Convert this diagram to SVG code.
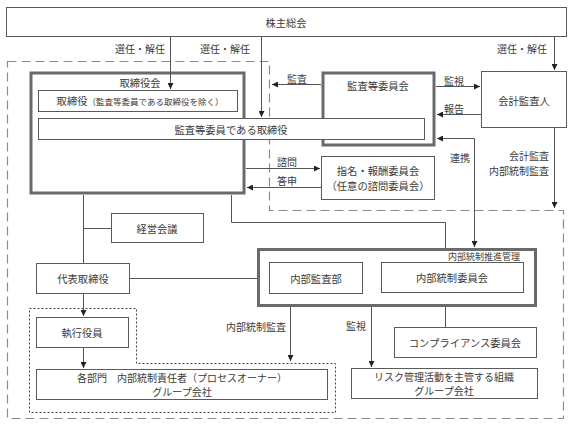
<svg xmlns="http://www.w3.org/2000/svg" width="573" height="425" viewBox="0 0 573 425">
<style>
text{font-family:"Noto Sans CJK JP","Noto Sans CJK SC",sans-serif;font-size:10.3px;fill:#3a3a3a;dominant-baseline:central;text-anchor:middle}
.lbl{font-size:10px}
.two{font-size:10px}
.box{fill:#fff;stroke:#5a5a5a;stroke-width:1}
.thick{fill:#fff;stroke:#6a6a6a;stroke-width:3}
.ln{fill:none;stroke:#555;stroke-width:1}
.arr{marker-end:url(#ah)}
.dash{fill:none;stroke:#8c8c8c;stroke-width:1.2;stroke-dasharray:9 5}
.dot{fill:none;stroke:#444;stroke-width:1;stroke-dasharray:2 2}
</style>
<defs>
<marker id="ah" markerUnits="userSpaceOnUse" markerWidth="7" markerHeight="6" refX="6" refY="3" orient="auto-start-reverse"><path d="M0,0 L6,3 L0,6 z" fill="#222"/></marker>
</defs>
<rect width="573" height="425" fill="#fff"/>
<g id="regions">
<path class="dash" d="M7.5,61.5 H269.5 V210.5 H563.5 V418.5 H7.5 Z"/>
<path class="dot" d="M29.5,308.5 H136.5 V363.5 H335.5 V412.5 H29.5 Z"/>
</g>
<g id="kabunushi"><rect class="box" x="6.5" y="7.5" width="560" height="29"/><text x="286" y="22">株主総会</text></g>
<g id="torishimariyakukai"><rect class="thick" x="31" y="73" width="213" height="120"/><text x="140" y="82">取締役会</text></g>
<g id="kansatoiinkai"><rect class="thick" x="323" y="73" width="111" height="72"/><text x="378" y="85">監査等委員会</text></g>
<g id="torishimariyaku"><rect class="box" x="38.5" y="90.5" width="199" height="21"/><text x="140" y="100.5">取締役<tspan style="font-size:8.5px">（監査等委員である取締役を除く）</tspan></text></g>
<g id="kansatoiin-torishimariyaku"><rect class="box" x="38.5" y="118.5" width="386" height="21"/><text x="231" y="129">監査等委員である取締役</text></g>
<g id="kaikeikansanin"><rect class="box" x="481.5" y="71.5" width="85" height="56"/><text x="524" y="100">会計監査人</text></g>
<g id="shimei"><rect class="box" x="321.5" y="156.5" width="113" height="43"/><text x="378" y="170">指名・報酬委員会</text><text x="378" y="185">（任意の諮問委員会）</text></g>
<g id="keieikaigi"><rect class="box" x="111.5" y="213.5" width="92" height="29"/><text x="157" y="228">経営会議</text></g>
<g id="daihyo"><rect class="box" x="36.5" y="263.5" width="93" height="30"/><text x="83" y="278">代表取締役</text></g>
<g id="suishin"><rect class="thick" x="258.5" y="249.5" width="277" height="56"/><text x="520" y="256" style="font-size:9px;text-anchor:end">内部統制推進管理</text></g>
<g id="naibukansabu"><rect class="box" x="269.5" y="262.5" width="93" height="31"/><text x="316" y="278">内部監査部</text></g>
<g id="naibutoseiiinkai"><rect class="box" x="381.5" y="262.5" width="142" height="30"/><text x="452" y="277">内部統制委員会</text></g>
<g id="shikkoyakuin"><rect class="box" x="36.5" y="317.5" width="92" height="30"/><text x="82" y="332">執行役員</text></g>
<g id="kakubumon"><rect class="box" x="36.5" y="369.5" width="291" height="30"/><text class="two" x="182" y="377.5">各部門　内部統制責任者（プロセスオーナー）</text><text class="two" x="182" y="391.5">グループ会社</text></g>
<g id="compliance"><rect class="box" x="394.5" y="327.5" width="142" height="30"/><text x="465" y="342">コンプライアンス委員会</text></g>
<g id="risk"><rect class="box" x="351.5" y="368.5" width="186" height="30"/><text class="two" x="444" y="376.5">リスク管理活動を主管する組織</text><text class="two" x="444" y="390.5">グループ会社</text></g>
<g id="connectors">
<path class="ln arr" d="M170.5,37 V89"/>
<path class="ln arr" d="M261.5,37 V117"/>
<path class="ln arr" d="M554.5,37 V70"/>
<path class="ln arr" d="M321,84.5 H272"/>
<path class="ln arr" d="M436,86.5 H480"/>
<path class="ln arr" d="M481,114.5 H437"/>
<path class="ln arr" d="M437,138.5 H474.5 V247" style="marker-start:url(#ah)"/>
<path class="ln arr" d="M554.5,128 V208"/>
<path class="ln arr" d="M246,168.5 H320"/>
<path class="ln arr" d="M321,187.5 H247"/>
<path class="ln" d="M83.5,195 V263 M83.5,228.5 H111"/>
<path class="ln" d="M231.5,195 V222.5 H445.5 V248"/>
<path class="ln" d="M130,278.5 H257"/>
<path class="ln arr" d="M83.5,294 V316"/>
<path class="ln arr" d="M83.5,348 V368"/>
<path class="ln arr" d="M290.5,307 V361"/>
<path class="ln arr" d="M371.5,307 V367"/>
<path class="ln" d="M445.5,307 V327"/>
</g>
<g id="labels">
<text class="lbl" x="140" y="48">選任・解任</text>
<text class="lbl" x="225" y="48">選任・解任</text>
<text class="lbl" x="522" y="48">選任・解任</text>
<text class="lbl" x="297" y="78">監査</text>
<text class="lbl" x="454" y="80">監視</text>
<text class="lbl" x="454" y="108">報告</text>
<text class="lbl" x="287" y="161">諮問</text>
<text class="lbl" x="287" y="180">答申</text>
<text class="lbl" x="460" y="157">連携</text>
<text class="lbl" x="549" y="155" style="text-anchor:end">会計監査</text>
<text class="lbl" x="549" y="170" style="text-anchor:end">内部統制監査</text>
<text class="lbl" x="286" y="326" style="text-anchor:end">内部統制監査</text>
<text class="lbl" x="356" y="325">監視</text>
</g>
</svg>
